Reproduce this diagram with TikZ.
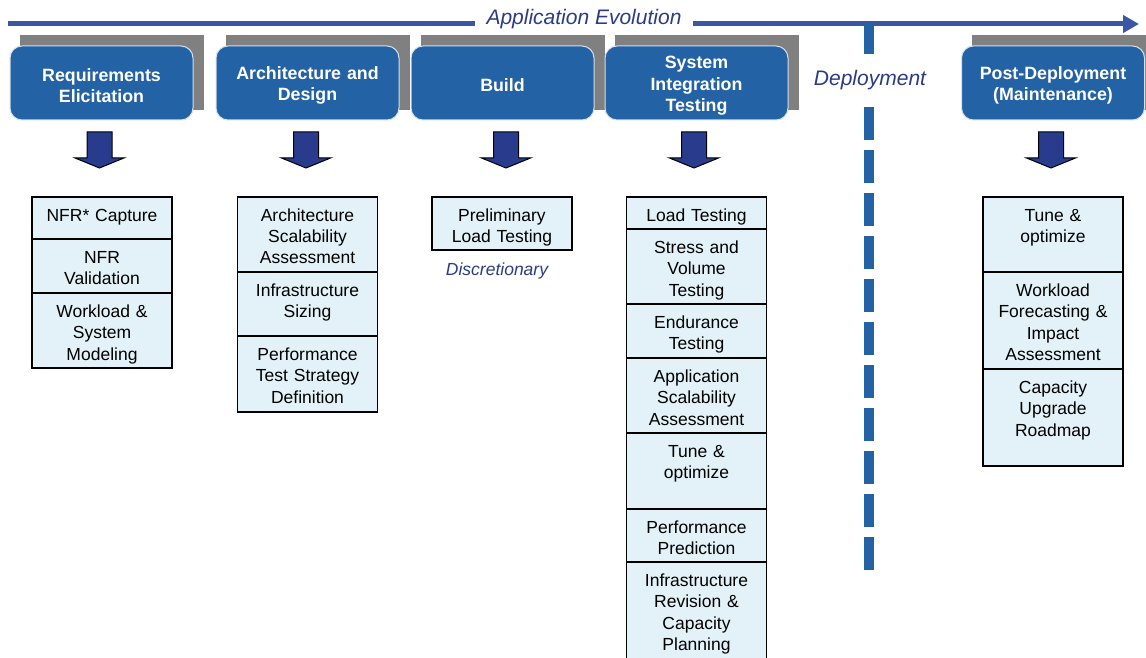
\documentclass[tikz,border=0pt]{standalone}
\usepackage{fontspec}
\setmainfont{Liberation Sans}
\usetikzlibrary{positioning,arrows.meta,backgrounds}
\definecolor{headblue}{HTML}{2462A6}
\definecolor{shadowgray}{HTML}{808080}
\definecolor{evoblue}{HTML}{3C56A6}
\definecolor{arrowblue}{HTML}{283B8C}
\definecolor{labelblue}{HTML}{2B3C85}
\definecolor{cellfill}{HTML}{E3F2F8}
\begin{document}
\begin{tikzpicture}[x=1pt,y=-1pt,
    phase/.style={fill=headblue, draw=white!80!headblue, line width=1pt, rounded corners=12pt,
        minimum width=183pt, minimum height=74pt, text width=170pt, align=center, text=white,
        text height=18pt, font=\fontsize{17.8}{21.5}\selectfont\bfseries},
    task/.style={draw, fill=cellfill, line width=1.2pt, outer sep=0pt, text width=134pt,
        align=center, inner xsep=3pt, inner ysep=4pt, text height=20pt, text depth=#1,
        font=\fontsize{17.5}{21.5}\selectfont},
    note/.style={text=labelblue, font=\fontsize{21}{24}\selectfont\itshape},
    pics/blockarrow/.style={code={
        \draw[fill=arrowblue, line width=1pt] (-12.5,0) -- (12.5,0) -- (12.5,26) -- (24.5,26)
            -- (0,36) -- (-24.5,26) -- (-12.5,26) -- cycle;}}]
    \useasboundingbox (0,0) rectangle (1146,658);
    \clip (0,0) rectangle (1146,658);

    \coordinate (evostart) at (8,24);
    \coordinate (evoend) at (1139,24);
    \draw[evoblue, line width=5pt, -{Triangle[length=16pt, width=17pt]}] (evostart) -- (evoend);
    \node[note, fill=white, inner xsep=12pt, anchor=base] (evo) at (584,25) {Application Evolution};

    \coordinate (depbot) at (869,570);
    \coordinate (deptop) at (869,24);
    \draw[headblue, line width=10pt, dash pattern=on 33pt off 10pt] (depbot) -- (deptop);
    \node[note, fill=white, minimum height=40pt, anchor=base] (dep) at (870,86) {Deployment};

    \node[phase] (h1) at (101.5,83) {Requirements\\Elicitation};
    \node[phase] (h2) at (307.5,83) {Architecture and\\Design};
    \node[phase] (h3) at (502.5,83) {Build};
    \node[phase] (h4) at (696.5,83) {System\\Integration\\Testing};
    \node[phase] (h5) at (1053,83) {Post-Deployment\\(Maintenance)};
    \begin{scope}[on background layer]
        \foreach \h in {h1,h2,h3,h4,h5}
            \fill[shadowgray] ([shift={(10.5pt,10.5pt)}]\h.south west) rectangle ([shift={(10.5pt,10.5pt)}]\h.north east);
    \end{scope}

    \pic at (99.5,132) {blockarrow};
    \pic at (306,132) {blockarrow};
    \pic at (506,132) {blockarrow};
    \pic at (694,132) {blockarrow};
    \pic at (1051,132) {blockarrow};

    \node[task=14pt, anchor=north] (r1) at (102,197) {NFR* Capture};
    \node[task=26pt, below=0pt of r1] (r2) {NFR\\Validation};
    \node[task=47pt, below=0pt of r2] (r3) {Workload \&\\System\\Modeling};

    \node[task=47pt, anchor=north] (a1) at (307.5,197) {Architecture\\Scalability\\Assessment};
    \node[task=36pt, below=0pt of a1] (a2) {Infrastructure\\Sizing};
    \node[task=48pt, below=0pt of a2] (a3) {Performance\\Test Strategy\\Definition};

    \node[task=25pt, anchor=north] (b1) at (502,197) {Preliminary\\Load Testing};
    \node[note, font=\fontsize{17.5}{20}\selectfont\itshape, anchor=base] (disc) at (497,275) {Discretionary};

    \node[task=4pt, anchor=north] (s1) at (696.5,197) {Load Testing};
    \node[task=47pt, below=0pt of s1] (s2) {Stress and\\Volume\\Testing};
    \node[task=26pt, below=0pt of s2] (s3) {Endurance\\Testing};
    \node[task=47pt, below=0pt of s3] (s4) {Application\\Scalability\\Assessment};
    \node[task=48pt, below=0pt of s4] (s5) {Tune \&\\optimize};
    \node[task=25pt, below=0pt of s5] (s6) {Performance\\Prediction};
    \node[task=80pt, below=0pt of s6] (s7) {Infrastructure\\Revision \&\\Capacity\\Planning};

    \node[task=47pt, anchor=north] (m1) at (1053,197) {Tune \&\\optimize};
    \node[task=69pt, below=0pt of m1] (m2) {Workload\\Forecasting \&\\Impact\\Assessment};
    \node[task=69pt, below=0pt of m2] (m3) {Capacity\\Upgrade\\Roadmap};
\end{tikzpicture}
\end{document}
